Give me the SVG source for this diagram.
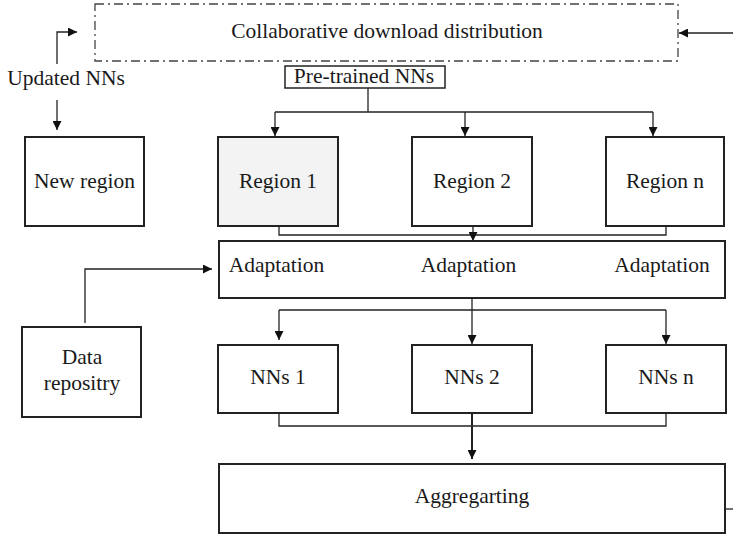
<svg xmlns="http://www.w3.org/2000/svg" width="733" height="535" viewBox="0 0 733 535">
<style>
.box{fill:#fff;stroke:#222;stroke-width:2}
.t{font-family:"Liberation Serif","Times New Roman",serif;font-size:21.5px;fill:#1a1a1a;text-anchor:middle}
.c{fill:none;stroke:#222;stroke-width:1.3}
.ca{fill:none;stroke:#222;stroke-width:1.3;marker-end:url(#ah)}
</style>
<defs>
<marker id="ah" viewBox="0 0 10 10" refX="10" refY="5" markerWidth="10" markerHeight="9" markerUnits="userSpaceOnUse" orient="auto">
<path d="M0,0 L10,5 L0,10 z" fill="#111"/>
</marker>
</defs>
<g id="collab">
<rect x="95" y="4" width="583" height="57" fill="#fff" stroke="#444" stroke-width="1.3" stroke-dasharray="9,4,2,4"/>
<text class="t" x="387" y="38">Collaborative download distribution</text>
</g>
<g id="pretrained">
<rect x="285" y="66" width="160" height="22" fill="#fff" stroke="#222" stroke-width="1.5"/>
<text class="t" x="364" y="83">Pre-trained NNs</text>
</g>
<g id="updated-label">
<text class="t" x="66" y="85">Updated NNs</text>
</g>
<g id="new-region">
<rect class="box" x="25" y="137" width="119" height="89"/>
<text class="t" x="84.5" y="188">New region</text>
</g>
<g id="region1">
<rect class="box" x="218" y="137" width="120" height="89" style="fill:#f3f3f3"/>
<text class="t" x="278" y="188">Region 1</text>
</g>
<g id="region2">
<rect class="box" x="412" y="137" width="120" height="89"/>
<text class="t" x="472" y="188">Region 2</text>
</g>
<g id="regionn">
<rect class="box" x="606" y="137" width="118" height="89"/>
<text class="t" x="665" y="188">Region n</text>
</g>
<g id="adaptation">
<rect class="box" x="219" y="241" width="506" height="57"/>
<text class="t" x="276.5" y="272">Adaptation</text>
<text class="t" x="468.5" y="272">Adaptation</text>
<text class="t" x="662" y="272">Adaptation</text>
</g>
<g id="data-repo">
<rect class="box" x="22" y="327" width="119" height="90"/>
<text class="t" x="82" y="364">Data</text>
<text class="t" x="82" y="390">repositry</text>
</g>
<g id="nns1">
<rect class="box" x="218" y="345" width="120" height="68"/>
<text class="t" x="278" y="384">NNs 1</text>
</g>
<g id="nns2">
<rect class="box" x="412" y="345" width="120" height="68"/>
<text class="t" x="472" y="384">NNs 2</text>
</g>
<g id="nnsn">
<rect class="box" x="606" y="345" width="120" height="68"/>
<text class="t" x="666" y="384">NNs n</text>
</g>
<g id="aggregating">
<rect class="box" x="219" y="464" width="506" height="69"/>
<text class="t" x="472" y="503">Aggregarting</text>
</g>
<g id="connectors">
<path class="ca" d="M733,33 L679,33"/>
<path class="ca" d="M57,64 L57,32 L77,32"/>
<path class="ca" d="M57,100 L57,130"/>
<path class="c" d="M368,88 L368,112"/>
<path class="c" d="M275,112 L653,112"/>
<path class="ca" d="M275,112 L275,136"/>
<path class="ca" d="M465,112 L465,136"/>
<path class="ca" d="M653,112 L653,136"/>
<path class="c" d="M279,226 L279,235 L666,235 L666,226"/>
<path class="ca" d="M473,226 L473,241"/>
<path class="ca" d="M85,323 L85,269 L212,269"/>
<path class="c" d="M472,298 L472,310"/>
<path class="c" d="M279,310 L666,310"/>
<path class="ca" d="M279,310 L279,340"/>
<path class="ca" d="M472,310 L472,344"/>
<path class="ca" d="M666,310 L666,344"/>
<path class="c" d="M279,413 L279,426 L666,426 L666,413"/>
<path class="ca" d="M472,413 L472,459" style="stroke-width:2"/>
<path class="c" d="M725,509 L733,509"/>
</g>
</svg>
